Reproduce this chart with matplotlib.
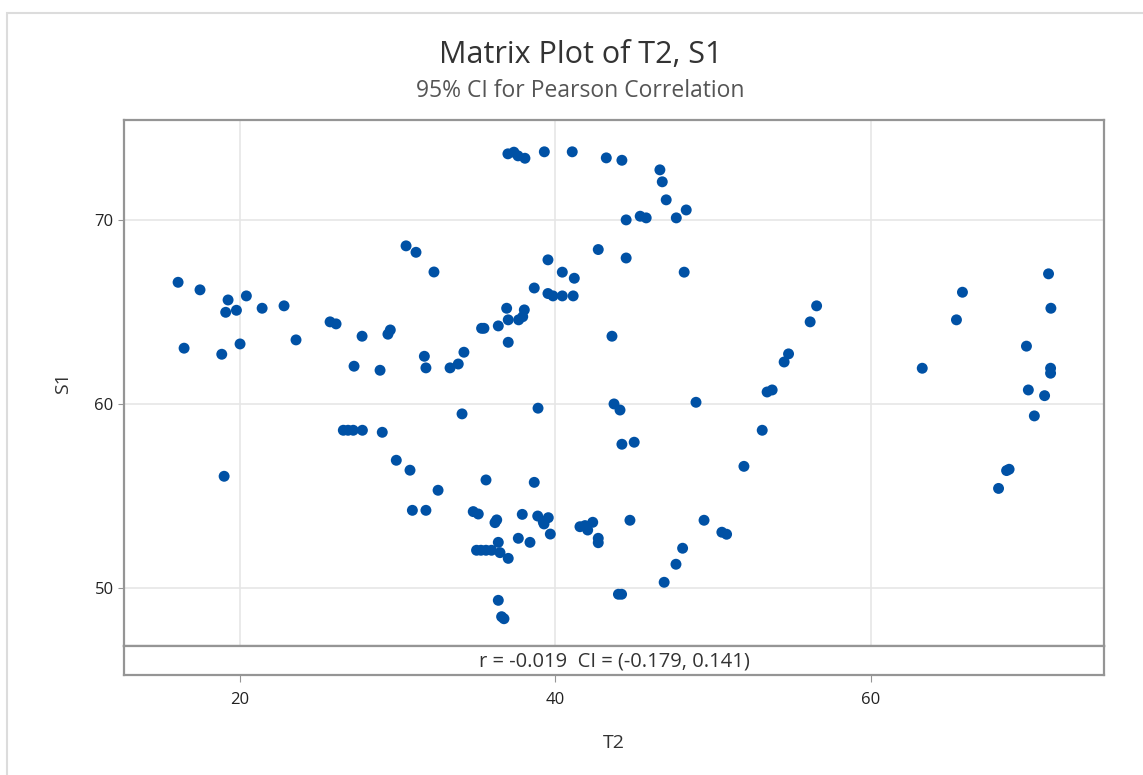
import matplotlib.pyplot as plt
from matplotlib.patches import Rectangle

plt.rcParams['font.family'] = ['Open Sans', 'DejaVu Sans']

# T2 / S1 observations
t2 = [16.07, 17.46, 19.24, 20.40, 19.09, 19.77, 21.40, 22.79, 16.45, 18.84,
      20.00, 23.55, 25.71, 26.09, 27.74, 29.38, 29.53, 27.23, 28.88, 30.53,
      31.16, 32.30, 31.69, 31.79, 33.32, 18.99, 26.55, 26.85, 27.18, 27.76,
      29.02, 29.91, 30.78, 32.56, 30.93, 31.79, 36.99, 37.37, 37.63, 38.07,
      39.30, 41.07, 43.23, 44.22, 46.63, 46.78, 47.03, 48.30, 47.67, 44.49,
      45.38, 45.76, 42.72, 44.49, 48.17, 39.53, 40.44, 41.20, 38.66, 39.53,
      39.85, 40.44, 41.13, 36.91, 38.03, 37.93, 37.67, 37.01, 36.38, 35.32,
      35.47, 37.01, 34.20, 33.84, 43.59, 34.08, 38.90, 43.72, 44.10, 48.92,
      53.43, 53.75, 53.12, 51.96, 44.22, 45.00, 35.60, 38.66, 34.79, 35.11,
      36.17, 36.28, 37.90, 38.88, 39.23, 39.55, 39.28, 39.68, 36.38, 37.65,
      38.39, 35.00, 35.28, 35.60, 35.95, 36.49, 37.01, 36.38, 36.59, 36.74,
      41.56, 41.88, 42.05, 42.37, 42.72, 42.72, 44.73, 44.00, 44.20, 46.90,
      47.65, 48.07, 49.43, 50.56, 50.86, 56.57, 56.16, 54.79, 54.51, 65.82,
      65.44, 63.27, 71.28, 71.43, 69.88, 71.41, 71.41, 70.00, 71.03, 70.38,
      68.62, 68.78, 68.11]
s1 = [66.61, 66.20, 65.65, 65.87, 64.98, 65.09, 65.20, 65.33, 63.03, 62.70,
      63.26, 63.48, 64.46, 64.35, 63.68, 63.79, 64.02, 62.05, 61.83, 68.59,
      68.24, 67.17, 62.59, 61.96, 61.96, 56.07, 58.57, 58.57, 58.57, 58.57,
      58.46, 56.94, 56.40, 55.31, 54.22, 54.22, 73.59, 73.68, 73.48, 73.35,
      73.70, 73.70, 73.37, 73.24, 72.72, 72.07, 71.09, 70.54, 70.11, 70.00,
      70.20, 70.11, 68.39, 67.93, 67.16, 67.83, 67.16, 66.83, 66.30, 66.00,
      65.87, 65.87, 65.87, 65.20, 65.11, 64.74, 64.57, 64.57, 64.24, 64.11,
      64.11, 63.35, 62.81, 62.17, 63.68, 59.46, 59.77, 60.00, 59.67, 60.09,
      60.65, 60.76, 58.57, 56.61, 57.81, 57.92, 55.87, 55.74, 54.15, 54.02,
      53.55, 53.70, 54.00, 53.91, 53.60, 53.82, 53.48, 52.93, 52.48, 52.70,
      52.48, 52.05, 52.05, 52.05, 52.05, 51.92, 51.61, 49.33, 48.44, 48.33,
      53.33, 53.39, 53.15, 53.57, 52.70, 52.46, 53.68, 49.66, 49.66, 50.31,
      51.29, 52.16, 53.68, 53.03, 52.92, 65.33, 64.46, 62.72, 62.28, 66.07,
      64.57, 61.94, 67.07, 65.20, 63.14, 61.94, 61.67, 60.76, 60.45, 59.35,
      56.38, 56.45, 55.41]

xticks = [20, 40, 60]
yticks = [50, 60, 70]
corr_text = 'r = -0.019  CI = (-0.179, 0.141)'

blue = '#0051a5'
frame = '#959595'
grid = '#e6e6e6'

fig = plt.figure(figsize=(11.43, 7.75), dpi=100)
fig.patches.append(Rectangle((0.006, -0.01), 1.1, 0.993, transform=fig.transFigure,
                             fill=False, edgecolor='#dcdcdc', linewidth=1.5))

ax = fig.add_axes([0.1085, 0.1665, 0.8574, 0.6787])
foot = fig.add_axes([0.1085, 0.129, 0.8574, 0.0374], sharex=ax)

ax.scatter(t2, s1, s=62, color=blue, edgecolors='none', zorder=3)
ax.set_xlim(12.64, 74.8)
ax.set_ylim(46.85, 75.43)
ax.set_yticks(yticks)
ax.set_xticks(xticks)
ax.grid(True, color=grid, linewidth=1.2, zorder=0)
ax.tick_params(axis='x', bottom=False, labelbottom=False)
ax.tick_params(axis='y', length=4, color=frame, labelsize=12, labelcolor='#222222')
for sp in ax.spines.values():
    sp.set_color(frame)
    sp.set_linewidth(1.6)
ax.set_ylabel('S1', fontsize=14, color='#333333', labelpad=16)

foot.set_ylim(0, 1)
foot.set_yticks([])
foot.tick_params(axis='x', length=5, color=frame, labelsize=12, labelcolor='#222222', pad=7)
for sp in foot.spines.values():
    sp.set_color(frame)
    sp.set_linewidth(1.6)
foot.text(0.5, 0.45, corr_text, transform=foot.transAxes, ha='center', va='center',
          fontsize=14.5, color='#333333')
foot.set_xlabel('T2', fontsize=14, color='#333333', labelpad=19)

fig.text(0.508, 0.929, 'Matrix Plot of T2, S1', ha='center', va='center',
         fontsize=22, color='#333333')
fig.text(0.508, 0.882, '95% CI for Pearson Correlation', ha='center', va='center',
         fontsize=16.5, color='#555555')

fig.savefig('out.png', dpi=100)
